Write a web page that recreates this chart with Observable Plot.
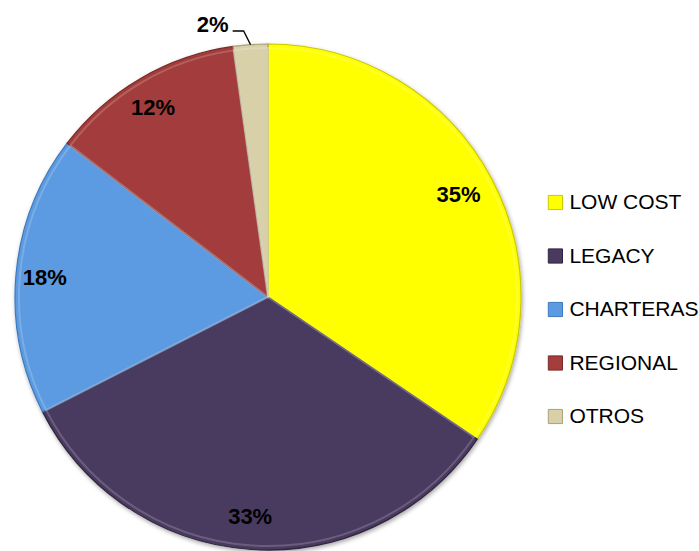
<!DOCTYPE html>
<html>
<head>
<meta charset="utf-8">
<script src="https://cdn.jsdelivr.net/npm/d3@7"></script>
<script src="https://cdn.jsdelivr.net/npm/@observablehq/plot@0.6"></script>
<style>
  html, body { margin: 0; padding: 0; background: #fff; }
  #chart svg { display: block; }
</style>
</head>
<body>
<div id="chart"></div>
<script>
// ---- data ----
const categories = ["LOW COST", "LEGACY", "CHARTERAS", "REGIONAL", "OTROS"];
const shares = [34.5, 33.0, 17.9, 12.4, 2.2];
const colors = ["#FFFF00", "#4A3A60", "#5C9BE1", "#A33E3C", "#D7D0A8"];
const edgeColors = ["#C9C900", "#30253F", "#3E79BD", "#7A2927", "#A9A27A"];

const data = categories.map((c, i) => ({category: c, value: shares[i], color: colors[i], edge: edgeColors[i], i}));
const pie = d3.pie().sort(null).value(d => d.value).startAngle(0).endAngle(2 * Math.PI)(data);

function pieMark(index, scales, values, dimensions) {
  const cx = scales.x(0), cy = scales.y(0);
  const R = scales.x(1) - scales.x(0);
  const svgNS = "http://www.w3.org/2000/svg";
  const g = d3.select(document.createElementNS(svgNS, "g"));
  const defs = g.append("defs");
  const f = defs.append("filter").attr("id", "shadow").attr("x", "-10%").attr("y", "-10%").attr("width", "120%").attr("height", "120%");
  f.append("feGaussianBlur").attr("in", "SourceAlpha").attr("stdDeviation", 2);
  f.append("feOffset").attr("dx", 1).attr("dy", 2).attr("result", "b");
  f.append("feFlood").attr("flood-color", "#000").attr("flood-opacity", 0.35);
  f.append("feComposite").attr("in2", "b").attr("operator", "in");
  const m = f.append("feMerge");
  m.append("feMergeNode");
  m.append("feMergeNode").attr("in", "SourceGraphic");

  const arc = d3.arc().innerRadius(0).outerRadius(R);
  const inner = d3.arc().innerRadius(0).outerRadius(R - 4);
  const slices = g.append("g").attr("transform", `translate(${cx},${cy})`).attr("filter", "url(#shadow)");
  slices.selectAll("path.s").data(pie).join("path")
    .attr("class", "s")
    .attr("d", arc)
    .attr("fill", d => d.data.color)
    .attr("stroke", d => d.data.edge)
    .attr("stroke-width", 1.2);
  slices.selectAll("path.h").data(pie).join("path")
    .attr("class", "h")
    .attr("d", inner)
    .attr("fill", "none")
    .attr("stroke", "#fff")
    .attr("stroke-opacity", 0.18)
    .attr("stroke-width", 2);

  const labelR = R * 0.87;
  const lbl = g.append("g").attr("font-family", "'Liberation Sans', Arial, sans-serif")
    .attr("font-weight", "bold").attr("font-size", 22).attr("fill", "#000");
  pie.forEach(d => {
    const a = (d.startAngle + d.endAngle) / 2;
    const txt = Math.round(d.data.value) + "%";
    if (d.data.value < 5) {
      const ex = cx + R * Math.sin(a), ey = cy - R * Math.cos(a);
      const kx = cx + R * 1.05 * Math.sin(a) - 6, ky = cy - R * 1.05 * Math.cos(a) - 1;
      const hx = kx - 11;
      g.append("path").attr("d", `M${ex},${ey}L${kx},${ky}L${hx},${ky}`)
        .attr("fill", "none").attr("stroke", "#000").attr("stroke-width", 1.3);
      lbl.append("text").attr("x", hx - 4).attr("y", ky).attr("dy", "0.05em")
        .attr("text-anchor", "end").text(txt);
    } else {
      lbl.append("text")
        .attr("x", cx + labelR * Math.sin(a) - 4).attr("y", cy - labelR * Math.cos(a))
        .attr("dy", "0.35em").attr("text-anchor", "middle").text(txt);
    }
  });
  return g.node();
}

const legend = data.map(d => ({...d, lx: 1.134, ly: (297 - (202 + d.i * 53.5)) / 253}));

const chart = Plot.plot({
  width: 699,
  height: 551,
  marginLeft: 15,
  marginRight: 178,
  marginTop: 44,
  marginBottom: 1,
  x: {domain: [-1, 1], axis: null},
  y: {domain: [-1, 1], axis: null},
  style: {background: "#fff", overflow: "visible"},
  marks: [
    pieMark,
    Plot.dot(legend, {x: "lx", y: "ly", symbol: "square", r: 8, fill: "color", stroke: "edge", strokeWidth: 1}),
    Plot.text(legend, {x: "lx", y: "ly", text: "category", dx: 14, textAnchor: "start",
      fontSize: 21, fill: "#000", fontFamily: "'Liberation Sans', Arial, sans-serif"})
  ]
});
document.getElementById("chart").appendChild(chart);
</script>
</body>
</html>
